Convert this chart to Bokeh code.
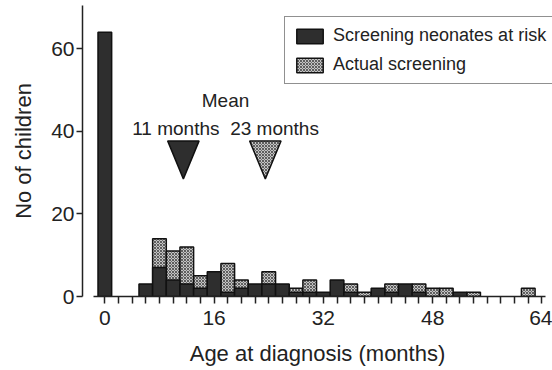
from bokeh.plotting import figure
from bokeh.models import FixedTicker, Label, Legend, LegendItem, ColumnDataSource, Range1d
from bokeh.embed import file_html
from bokeh.resources import INLINE

# Age bins (months, start of 2-month bin)
bin_months = [0, 2, 4, 6, 8, 10, 12, 14, 16, 18, 20, 22, 24, 26, 28, 30,
              32, 34, 36, 38, 40, 42, 44, 46, 48, 50, 52, 54, 56, 58, 60, 62]
# Screening neonates at risk (dark bars)
neonates = [64, 0, 0, 3, 7, 4, 3, 2, 6, 1, 2, 3, 3, 3, 1, 1,
            1, 4, 1, 0, 2, 1, 3, 1, 0, 0, 1, 0, 0, 0, 0, 0]
# Actual screening (stippled bars, drawn behind)
actual = [0, 0, 0, 0, 14, 11, 12, 5, 0, 8, 4, 0, 6, 0, 2, 4,
          0, 0, 3, 1, 0, 3, 0, 3, 2, 2, 0, 1, 0, 0, 0, 2]
# Mean pointers
mean_pos = [11.5, 23.5]
mean_labels = ["11 months", "23 months"]
x_tick_labels = {0: "0", 16: "16", 32: "32", 48: "48", 64: "64"}
y_ticks = [0, 20, 40, 60]

FONT = "Liberation Sans"
INK = "#222222"
DARK = "#2e2e2e"
STIPPLE = "#c4c4c4"

p = figure(width=552, height=370, output_backend="svg", toolbar_location=None,
           x_range=Range1d(-3.27, 65.55), y_range=Range1d(0, 70.5),
           min_border_left=82, min_border_right=0, min_border_top=5, min_border_bottom=74)
p.outline_line_color = None
p.grid.visible = False
p.background_fill_color = "white"

act_src = ColumnDataSource(dict(
    x=[m for m, v in zip(bin_months, actual) if v > 0],
    top=[v for v in actual if v > 0]))
neo_src = ColumnDataSource(dict(
    x=[m for m, v in zip(bin_months, neonates) if v > 0],
    top=[v for v in neonates if v > 0]))

hatch_kw = dict(fill_color=STIPPLE, hatch_pattern="diagonal_cross", hatch_scale=3,
                hatch_color="#444444", hatch_weight=0.8)

r_act = p.vbar(x="x", top="top", width=2, source=act_src, line_color="#111111",
               line_width=1.5, **hatch_kw)
r_neo = p.vbar(x="x", top="top", width=2, source=neo_src, fill_color=DARK,
               line_color="#111111", line_width=1.5)

# mean triangles
tri_half = 2.3
tri_top = 37.7
tri_bot = 28.5
p.patch(x=[mean_pos[0] - tri_half, mean_pos[0] + tri_half, mean_pos[0]],
        y=[tri_top, tri_top, tri_bot], fill_color=DARK, line_color="#111111", line_width=1.5)
p.patch(x=[mean_pos[1] - tri_half, mean_pos[1] + tri_half, mean_pos[1]],
        y=[tri_top, tri_top, tri_bot], line_color="#111111", line_width=1.5, **hatch_kw)

txt = dict(text_font=FONT, text_font_size="19px", text_color=INK,
           text_align="center", text_baseline="middle")
p.add_layout(Label(x=17.67, y=47.45, text="Mean", **txt))
p.add_layout(Label(x=10.4, y=40.65, text=mean_labels[0], **txt))
p.add_layout(Label(x=24.85, y=40.65, text=mean_labels[1], **txt))

# axes
ticks = list(range(0, 65, 2))
p.xaxis.ticker = FixedTicker(ticks=ticks)
p.xaxis.major_label_overrides = {t: x_tick_labels.get(t, "") for t in ticks}
p.xaxis.bounds = (-1.65, 64.5)
p.yaxis.ticker = FixedTicker(ticks=y_ticks)
for ax in (p.xaxis, p.yaxis):
    ax.axis_line_color = INK
    ax.axis_line_width = 1.5
    ax.major_tick_line_color = INK
    ax.major_tick_line_width = 1.5
    ax.major_tick_in = 0
    ax.minor_tick_in = 0
    ax.minor_tick_out = 0
    ax.major_label_text_font = FONT
    ax.major_label_text_font_size = "21px"
    ax.major_label_text_color = INK
    ax.axis_label_text_font = FONT
    ax.axis_label_text_font_size = "22px"
    ax.axis_label_text_font_style = "normal"
    ax.axis_label_text_color = INK
p.xaxis.major_tick_out = 7
p.xaxis.major_label_standoff = 7
p.xaxis.axis_label = "Age at diagnosis (months)"
p.xaxis.axis_label_standoff = 13
p.yaxis.major_tick_out = 6
p.yaxis.major_label_standoff = 2
p.yaxis.axis_label = "No of children"
p.yaxis.axis_label_standoff = 12

legend = Legend(items=[LegendItem(label="Screening neonates at risk", renderers=[r_neo]),
                       LegendItem(label="Actual screening", renderers=[r_act])],
                location=(202, 212))
legend.label_text_font = FONT
legend.label_text_font_size = "18px"
legend.label_text_color = INK
legend.glyph_width = 33
legend.glyph_height = 18
legend.label_standoff = 7
legend.spacing = 8
legend.padding = 8
legend.margin = 0
legend.border_line_color = INK
legend.border_line_width = 1.5
legend.background_fill_alpha = 1.0
p.add_layout(legend)

open("out.html", "w").write(file_html(p, INLINE))
